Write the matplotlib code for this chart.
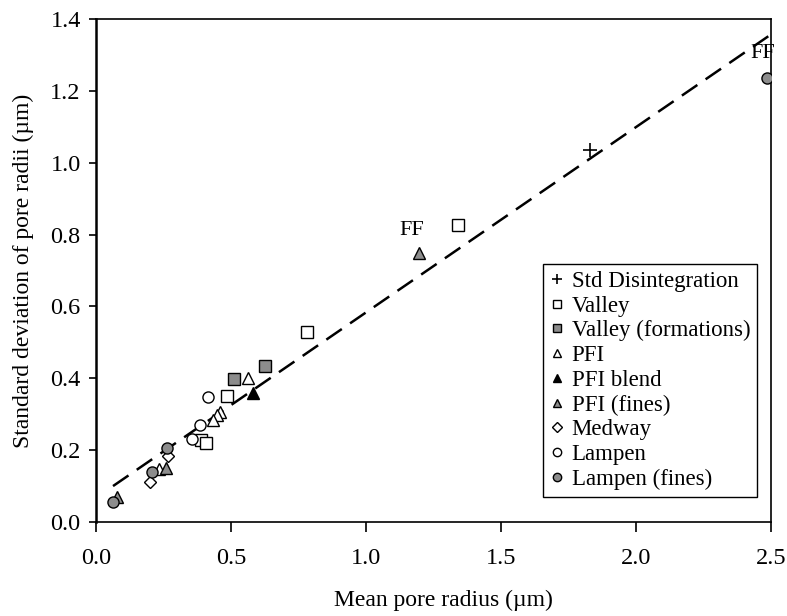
import matplotlib
matplotlib.use('Agg')
import matplotlib.pyplot as plt
import numpy as np

plt.rcParams['font.family'] = ['Liberation Serif', 'DejaVu Serif']

# data (mean pore radius, std dev of pore radii), um
std_x = [1.83]
std_y = [1.035]
valley_x = [1.341, 0.78, 0.484, 0.388, 0.406]
valley_y = [0.827, 0.53, 0.352, 0.228, 0.219]
valley_form_x = [0.626, 0.511]
valley_form_y = [0.435, 0.398]
pfi_x = [0.564, 0.459, 0.447, 0.434, 0.235]
pfi_y = [0.400, 0.307, 0.298, 0.284, 0.147]
pfi_blend_x = [0.580]
pfi_blend_y = [0.358]
pfi_fines_x = [1.196, 0.259, 0.077]
pfi_fines_y = [0.748, 0.150, 0.070]
medway_x = [0.268, 0.200]
medway_y = [0.184, 0.112]
lampen_x = [0.416, 0.385, 0.354]
lampen_y = [0.349, 0.270, 0.230]
lampen_fines_x = [2.483, 0.264, 0.206, 0.064]
lampen_fines_y = [1.237, 0.205, 0.140, 0.056]

# trend line (slope, intercept) and its x extent
fit_slope = 0.516
fit_intercept = 0.0675
fit_range = [0.063, 2.489]

# "FF" annotations
ff_x = [1.17, 2.47]
ff_y = [0.81, 1.305]

grey = '#8c8c8c'
fig = plt.figure(figsize=(7.87, 6.16), dpi=100)
ax = fig.add_axes([0.122, 0.1526, 0.858, 0.8166])

xs = np.array(fit_range)
ax.plot(xs, fit_slope * xs + fit_intercept, color='black', linestyle=(0, (7.5, 4)), linewidth=1.8, zorder=1)

ms = 8
mew = 1.0
ax.plot(std_x, std_y, '+', color='black', markersize=10, mew=1.2, linestyle='none', label='Std Disintegration', zorder=3)
ax.plot(valley_x, valley_y, 's', mfc='white', mec='black', markersize=ms, mew=mew, linestyle='none', label='Valley', zorder=3)
ax.plot(valley_form_x, valley_form_y, 's', mfc=grey, mec='black', markersize=ms, mew=mew, linestyle='none', label='Valley (formations)', zorder=3)
ax.plot(pfi_x, pfi_y, '^', mfc='white', mec='black', markersize=ms + 0.5, mew=mew, linestyle='none', label='PFI', zorder=3)
ax.plot(pfi_blend_x, pfi_blend_y, '^', mfc='black', mec='black', markersize=ms + 0.5, mew=mew, linestyle='none', label='PFI blend', zorder=3)
ax.plot(pfi_fines_x, pfi_fines_y, '^', mfc=grey, mec='black', markersize=ms + 0.5, mew=mew, linestyle='none', label='PFI (fines)', zorder=3)
ax.plot(medway_x, medway_y, 'D', mfc='white', mec='black', markersize=ms - 1.5, mew=mew, linestyle='none', label='Medway', zorder=3)
ax.plot(lampen_x, lampen_y, 'o', mfc='white', mec='black', markersize=ms, mew=mew, linestyle='none', label='Lampen', zorder=3)
ax.plot(lampen_fines_x, lampen_fines_y, 'o', mfc=grey, mec='black', markersize=ms, mew=mew, linestyle='none', label='Lampen (fines)', zorder=4)

for x, y in zip(ff_x, ff_y):
    ax.text(x, y, 'FF', ha='center', va='center', fontsize=16, clip_on=False, zorder=5)

ax.set_xlim(0, 2.5)
ax.set_ylim(0, 1.4)
ax.set_xticks(np.arange(0, 2.51, 0.5))
ax.set_yticks(np.arange(0, 1.41, 0.2))
ax.xaxis.set_major_formatter(plt.FormatStrFormatter('%.1f'))
ax.yaxis.set_major_formatter(plt.FormatStrFormatter('%.1f'))
ax.tick_params(axis='x', direction='out', length=7, width=1.2, labelsize=17.5, pad=12)
ax.tick_params(axis='y', direction='out', length=5, width=1.2, labelsize=17.5, pad=6)
for s in ax.spines.values():
    s.set_linewidth(1.2)
ax.spines['left'].set_linewidth(1.8)

ax.set_xlabel('Mean pore radius (\u00b5m)', fontsize=17, labelpad=15)
ax.xaxis.set_label_coords(0.514, -0.135)
ax.set_ylabel('Standard deviation of pore radii (\u00b5m)', fontsize=17, labelpad=12)

leg = ax.legend(loc='lower right', bbox_to_anchor=(0.979, 0.05), borderaxespad=0,
                fontsize=16.5, markerscale=0.75, handlelength=0.6, handletextpad=0.35,
                labelspacing=0.16, borderpad=0.3, fancybox=False, framealpha=1)
leg.get_frame().set_edgecolor('black')
leg.get_frame().set_linewidth(1.0)

fig.savefig('out.png', dpi=100)
